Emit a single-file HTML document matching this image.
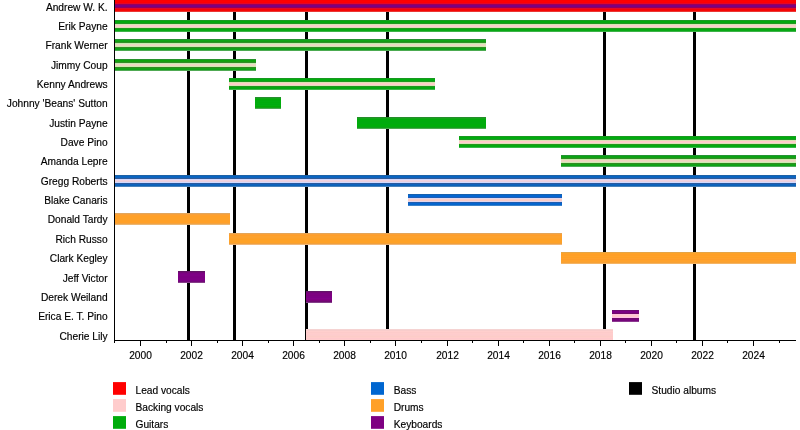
<!DOCTYPE html><html><head><meta charset="utf-8"><title>Timeline</title>
<style>html,body{margin:0;padding:0;background:#fff}body{width:800px;height:430px;overflow:hidden}svg{display:block}text{font-family:"Liberation Sans",sans-serif;font-size:10.2px;fill:#000;stroke:#000;stroke-width:0.16px}</style></head><body>
<svg width="800" height="430" viewBox="0 0 800 430">
<rect width="800" height="430" fill="#fff"/>
<rect x="187" y="0" width="3" height="340" fill="#000"/>
<rect x="233" y="0" width="3" height="340" fill="#000"/>
<rect x="305" y="0" width="3" height="340" fill="#000"/>
<rect x="386" y="0" width="3" height="340" fill="#000"/>
<rect x="603" y="0" width="3" height="340" fill="#000"/>
<rect x="693" y="0" width="3" height="340" fill="#000"/>
<rect x="115" y="0" width="681" height="1" fill="#fe0000"/>
<rect x="115" y="1" width="681" height="1" fill="#ff0101"/>
<rect x="115" y="2" width="681" height="1" fill="#fd0002"/>
<rect x="115" y="3" width="681" height="1" fill="#e40728"/>
<rect x="115" y="4" width="681" height="1" fill="#98005a"/>
<rect x="115" y="5" width="681" height="1" fill="#7f0081"/>
<rect x="115" y="6" width="681" height="1" fill="#7a0184"/>
<rect x="115" y="7" width="681" height="1" fill="#93005d"/>
<rect x="115" y="8" width="681" height="1" fill="#e3072a"/>
<rect x="115" y="9" width="681" height="1" fill="#f90101"/>
<rect x="115" y="10" width="681" height="1" fill="#f60605"/>
<rect x="115" y="11" width="681" height="1" fill="#ea3836"/>
<rect x="115" y="20" width="681" height="1" fill="#1c9924"/>
<rect x="115" y="21" width="681" height="1" fill="#02aa0d"/>
<rect x="115" y="22" width="681" height="1" fill="#04a90f"/>
<rect x="115" y="23" width="681" height="1" fill="#239621"/>
<rect x="115" y="24" width="681" height="1" fill="#d8e6b5"/>
<rect x="115" y="25" width="681" height="1" fill="#f8d0c8"/>
<rect x="115" y="26" width="681" height="1" fill="#ffcdce"/>
<rect x="115" y="27" width="681" height="1" fill="#dddfba"/>
<rect x="115" y="28" width="681" height="1" fill="#249720"/>
<rect x="115" y="29" width="681" height="1" fill="#01a90c"/>
<rect x="115" y="30" width="681" height="1" fill="#08a814"/>
<rect x="115" y="31" width="681" height="1" fill="#3eb348"/>
<rect x="115" y="39" width="371" height="1" fill="#279031"/>
<rect x="115" y="40" width="371" height="1" fill="#11a418"/>
<rect x="115" y="41" width="371" height="1" fill="#11a012"/>
<rect x="115" y="42" width="371" height="1" fill="#328f27"/>
<rect x="115" y="43" width="371" height="1" fill="#c5edae"/>
<rect x="115" y="44" width="371" height="1" fill="#e8d8c1"/>
<rect x="115" y="45" width="371" height="1" fill="#ebd9c1"/>
<rect x="115" y="46" width="371" height="1" fill="#ccecaf"/>
<rect x="115" y="47" width="371" height="1" fill="#358b26"/>
<rect x="115" y="48" width="371" height="1" fill="#10a116"/>
<rect x="115" y="49" width="371" height="1" fill="#0ea21a"/>
<rect x="115" y="50" width="371" height="1" fill="#4cab51"/>
<rect x="115" y="59" width="141" height="1" fill="#28922d"/>
<rect x="115" y="60" width="141" height="1" fill="#0ea20e"/>
<rect x="115" y="61" width="141" height="1" fill="#14a110"/>
<rect x="115" y="62" width="141" height="1" fill="#338b27"/>
<rect x="115" y="63" width="141" height="1" fill="#caebb4"/>
<rect x="115" y="64" width="141" height="1" fill="#ecd7c4"/>
<rect x="115" y="65" width="141" height="1" fill="#ecd7c2"/>
<rect x="115" y="66" width="141" height="1" fill="#cdecb0"/>
<rect x="115" y="67" width="141" height="1" fill="#338924"/>
<rect x="115" y="68" width="141" height="1" fill="#14a315"/>
<rect x="115" y="69" width="141" height="1" fill="#0fa017"/>
<rect x="115" y="70" width="141" height="1" fill="#50aa53"/>
<rect x="229" y="78" width="206" height="1" fill="#189920"/>
<rect x="229" y="79" width="206" height="1" fill="#01ac0e"/>
<rect x="229" y="80" width="206" height="1" fill="#00ac0f"/>
<rect x="229" y="81" width="206" height="1" fill="#209721"/>
<rect x="229" y="82" width="206" height="1" fill="#dce2b4"/>
<rect x="229" y="83" width="206" height="1" fill="#ffcdc6"/>
<rect x="229" y="84" width="206" height="1" fill="#ffcccb"/>
<rect x="229" y="85" width="206" height="1" fill="#dce0b9"/>
<rect x="229" y="86" width="206" height="1" fill="#24951f"/>
<rect x="229" y="87" width="206" height="1" fill="#02aa0f"/>
<rect x="229" y="88" width="206" height="1" fill="#06a513"/>
<rect x="229" y="89" width="206" height="1" fill="#40b54a"/>
<rect x="255" y="97" width="26" height="1" fill="#26902e"/>
<rect x="255" y="98" width="26" height="1" fill="#0fa415"/>
<rect x="255" y="99" width="26" height="1" fill="#00ab07"/>
<rect x="255" y="100" width="26" height="1" fill="#01ab0c"/>
<rect x="255" y="101" width="26" height="1" fill="#01ac0e"/>
<rect x="255" y="102" width="26" height="1" fill="#00ab0c"/>
<rect x="255" y="103" width="26" height="1" fill="#00ad0e"/>
<rect x="255" y="104" width="26" height="1" fill="#00aa0e"/>
<rect x="255" y="105" width="26" height="1" fill="#03ad0e"/>
<rect x="255" y="106" width="26" height="1" fill="#00ab04"/>
<rect x="255" y="107" width="26" height="1" fill="#10a314"/>
<rect x="255" y="108" width="26" height="1" fill="#4ca851"/>
<rect x="357" y="117" width="129" height="1" fill="#258e2a"/>
<rect x="357" y="118" width="129" height="1" fill="#12a318"/>
<rect x="357" y="119" width="129" height="1" fill="#01aa09"/>
<rect x="357" y="120" width="129" height="1" fill="#00ac0c"/>
<rect x="357" y="121" width="129" height="1" fill="#00ab0d"/>
<rect x="357" y="122" width="129" height="2" fill="#01aa0f"/>
<rect x="357" y="124" width="129" height="2" fill="#00ad0a"/>
<rect x="357" y="126" width="129" height="1" fill="#00ac0c"/>
<rect x="357" y="127" width="129" height="1" fill="#0fa118"/>
<rect x="357" y="128" width="129" height="1" fill="#4cab4f"/>
<rect x="459" y="136" width="337" height="1" fill="#1a9a21"/>
<rect x="459" y="137" width="337" height="1" fill="#00ab0b"/>
<rect x="459" y="138" width="337" height="1" fill="#00ad12"/>
<rect x="459" y="139" width="337" height="1" fill="#209723"/>
<rect x="459" y="140" width="337" height="1" fill="#dce2b6"/>
<rect x="459" y="141" width="337" height="1" fill="#fecbc7"/>
<rect x="459" y="142" width="337" height="1" fill="#ffcdcc"/>
<rect x="459" y="143" width="337" height="1" fill="#dbe1b9"/>
<rect x="459" y="144" width="337" height="1" fill="#24961c"/>
<rect x="459" y="145" width="337" height="1" fill="#04aa0c"/>
<rect x="459" y="146" width="337" height="1" fill="#02a911"/>
<rect x="459" y="147" width="337" height="1" fill="#3ab648"/>
<rect x="561" y="155" width="235" height="1" fill="#259332"/>
<rect x="561" y="156" width="235" height="1" fill="#0aa315"/>
<rect x="561" y="157" width="235" height="1" fill="#11a314"/>
<rect x="561" y="158" width="235" height="1" fill="#338b23"/>
<rect x="561" y="159" width="235" height="1" fill="#ccecad"/>
<rect x="561" y="160" width="235" height="1" fill="#efd6c0"/>
<rect x="561" y="161" width="235" height="1" fill="#edd7c2"/>
<rect x="561" y="162" width="235" height="1" fill="#cbedb0"/>
<rect x="561" y="163" width="235" height="1" fill="#328a24"/>
<rect x="561" y="164" width="235" height="1" fill="#14a315"/>
<rect x="561" y="165" width="235" height="1" fill="#0fa017"/>
<rect x="561" y="166" width="235" height="1" fill="#4dab55"/>
<rect x="115" y="175" width="681" height="1" fill="#1e61a5"/>
<rect x="115" y="176" width="681" height="1" fill="#0865c2"/>
<rect x="115" y="177" width="681" height="1" fill="#0f64bf"/>
<rect x="115" y="178" width="681" height="1" fill="#2f5b9a"/>
<rect x="115" y="179" width="681" height="1" fill="#d2d7fd"/>
<rect x="115" y="180" width="681" height="1" fill="#f1d3df"/>
<rect x="115" y="181" width="681" height="1" fill="#ebcfdd"/>
<rect x="115" y="182" width="681" height="1" fill="#cfdaff"/>
<rect x="115" y="183" width="681" height="1" fill="#2b5a9e"/>
<rect x="115" y="184" width="681" height="1" fill="#0f62bd"/>
<rect x="115" y="185" width="681" height="1" fill="#0c62b7"/>
<rect x="115" y="186" width="681" height="1" fill="#4981ba"/>
<rect x="408" y="194" width="154" height="1" fill="#1760ad"/>
<rect x="408" y="195" width="154" height="1" fill="#0566cf"/>
<rect x="408" y="196" width="154" height="1" fill="#0365d4"/>
<rect x="408" y="197" width="154" height="1" fill="#1f5db2"/>
<rect x="408" y="198" width="154" height="1" fill="#e0d6ee"/>
<rect x="408" y="199" width="154" height="1" fill="#fbcec8"/>
<rect x="408" y="200" width="154" height="1" fill="#facdc7"/>
<rect x="408" y="201" width="154" height="1" fill="#e0d6ee"/>
<rect x="408" y="202" width="154" height="1" fill="#205dae"/>
<rect x="408" y="203" width="154" height="1" fill="#0566d1"/>
<rect x="408" y="204" width="154" height="1" fill="#0765c9"/>
<rect x="408" y="205" width="154" height="1" fill="#3c82ca"/>
<rect x="115" y="213" width="115" height="1" fill="#e2a65d"/>
<rect x="115" y="214" width="115" height="1" fill="#f6a03b"/>
<rect x="115" y="215" width="115" height="1" fill="#ffa02b"/>
<rect x="115" y="216" width="115" height="1" fill="#ffa027"/>
<rect x="115" y="217" width="115" height="1" fill="#ffa127"/>
<rect x="115" y="218" width="115" height="2" fill="#fea128"/>
<rect x="115" y="220" width="115" height="2" fill="#ffa027"/>
<rect x="115" y="222" width="115" height="1" fill="#ffa028"/>
<rect x="115" y="223" width="115" height="1" fill="#f4a23e"/>
<rect x="115" y="224" width="115" height="1" fill="#ebb672"/>
<rect x="229" y="233" width="333" height="1" fill="#e4a558"/>
<rect x="229" y="234" width="333" height="1" fill="#fba036"/>
<rect x="229" y="235" width="333" height="1" fill="#ff9e28"/>
<rect x="229" y="236" width="333" height="1" fill="#fca12e"/>
<rect x="229" y="237" width="333" height="1" fill="#fba22e"/>
<rect x="229" y="238" width="333" height="1" fill="#fea028"/>
<rect x="229" y="239" width="333" height="1" fill="#fea024"/>
<rect x="229" y="240" width="333" height="3" fill="#fea227"/>
<rect x="229" y="243" width="333" height="1" fill="#f2a03a"/>
<rect x="229" y="244" width="333" height="1" fill="#f1b778"/>
<rect x="561" y="252" width="235" height="1" fill="#e6a446"/>
<rect x="561" y="253" width="235" height="1" fill="#fda328"/>
<rect x="561" y="254" width="235" height="2" fill="#ff9f27"/>
<rect x="561" y="256" width="235" height="1" fill="#ffa228"/>
<rect x="561" y="257" width="235" height="1" fill="#fea026"/>
<rect x="561" y="258" width="235" height="1" fill="#ffa02d"/>
<rect x="561" y="259" width="235" height="1" fill="#fe9d2a"/>
<rect x="561" y="260" width="235" height="1" fill="#ffa12b"/>
<rect x="561" y="261" width="235" height="1" fill="#fda22d"/>
<rect x="561" y="262" width="235" height="1" fill="#f7a134"/>
<rect x="561" y="263" width="235" height="1" fill="#f5b464"/>
<rect x="178" y="271" width="27" height="1" fill="#611464"/>
<rect x="178" y="272" width="27" height="1" fill="#720876"/>
<rect x="178" y="273" width="27" height="1" fill="#7c0182"/>
<rect x="178" y="274" width="27" height="1" fill="#7f0085"/>
<rect x="178" y="275" width="27" height="1" fill="#7f0086"/>
<rect x="178" y="276" width="27" height="1" fill="#7d0082"/>
<rect x="178" y="277" width="27" height="1" fill="#7c0082"/>
<rect x="178" y="278" width="27" height="2" fill="#7e0084"/>
<rect x="178" y="280" width="27" height="1" fill="#7c0085"/>
<rect x="178" y="281" width="27" height="1" fill="#720879"/>
<rect x="178" y="282" width="27" height="1" fill="#863c89"/>
<rect x="306" y="291" width="26" height="1" fill="#621467"/>
<rect x="306" y="292" width="26" height="1" fill="#720676"/>
<rect x="306" y="293" width="26" height="1" fill="#7c0080"/>
<rect x="306" y="294" width="26" height="1" fill="#7e0081"/>
<rect x="306" y="295" width="26" height="1" fill="#7c007f"/>
<rect x="306" y="296" width="26" height="1" fill="#7d0083"/>
<rect x="306" y="297" width="26" height="1" fill="#7c0085"/>
<rect x="306" y="298" width="26" height="1" fill="#820088"/>
<rect x="306" y="299" width="26" height="1" fill="#800082"/>
<rect x="306" y="300" width="26" height="1" fill="#7c027c"/>
<rect x="306" y="301" width="26" height="1" fill="#6e0a70"/>
<rect x="306" y="302" width="26" height="1" fill="#843e8a"/>
<rect x="612" y="310" width="27" height="1" fill="#6d0d71"/>
<rect x="612" y="311" width="27" height="1" fill="#7c0084"/>
<rect x="612" y="312" width="27" height="1" fill="#7a0084"/>
<rect x="612" y="313" width="27" height="1" fill="#720b69"/>
<rect x="612" y="314" width="27" height="1" fill="#ffc3df"/>
<rect x="612" y="315" width="27" height="1" fill="#ffcbc9"/>
<rect x="612" y="316" width="27" height="1" fill="#ffc9cf"/>
<rect x="612" y="317" width="27" height="1" fill="#ffc1e6"/>
<rect x="612" y="318" width="27" height="1" fill="#720a6b"/>
<rect x="612" y="319" width="27" height="1" fill="#77047c"/>
<rect x="612" y="320" width="27" height="1" fill="#75067a"/>
<rect x="612" y="321" width="27" height="1" fill="#8d3991"/>
<rect x="306" y="329" width="307" height="1" fill="#f5d3d2"/>
<rect x="306" y="330" width="307" height="1" fill="#f8cccb"/>
<rect x="306" y="331" width="307" height="1" fill="#ffcfcd"/>
<rect x="306" y="332" width="307" height="1" fill="#fdcbca"/>
<rect x="306" y="333" width="307" height="1" fill="#ffcdcc"/>
<rect x="306" y="334" width="307" height="1" fill="#fecccd"/>
<rect x="306" y="335" width="307" height="1" fill="#fdcdcb"/>
<rect x="306" y="336" width="307" height="1" fill="#fdccc8"/>
<rect x="306" y="337" width="307" height="1" fill="#ffcdca"/>
<rect x="306" y="338" width="307" height="1" fill="#ffc9cc"/>
<rect x="306" y="339" width="307" height="2" fill="#ffcccc"/>
<rect x="114" y="0" width="1" height="341" fill="#000"/>
<rect x="114" y="340" width="682" height="1" fill="#000"/>
<rect x="114" y="340" width="1" height="3" fill="#000"/>
<rect x="140" y="340" width="1" height="6" fill="#000"/>
<text x="140.50" y="359.4" text-anchor="middle">2000</text>
<rect x="166" y="340" width="1" height="3" fill="#000"/>
<rect x="191" y="340" width="1" height="6" fill="#000"/>
<text x="191.50" y="359.4" text-anchor="middle">2002</text>
<rect x="217" y="340" width="1" height="3" fill="#000"/>
<rect x="242" y="340" width="1" height="6" fill="#000"/>
<text x="242.50" y="359.4" text-anchor="middle">2004</text>
<rect x="268" y="340" width="1" height="3" fill="#000"/>
<rect x="293" y="340" width="1" height="6" fill="#000"/>
<text x="293.50" y="359.4" text-anchor="middle">2006</text>
<rect x="319" y="340" width="1" height="3" fill="#000"/>
<rect x="344" y="340" width="1" height="6" fill="#000"/>
<text x="344.50" y="359.4" text-anchor="middle">2008</text>
<rect x="370" y="340" width="1" height="3" fill="#000"/>
<rect x="395" y="340" width="1" height="6" fill="#000"/>
<text x="395.50" y="359.4" text-anchor="middle">2010</text>
<rect x="421" y="340" width="1" height="3" fill="#000"/>
<rect x="447" y="340" width="1" height="6" fill="#000"/>
<text x="447.50" y="359.4" text-anchor="middle">2012</text>
<rect x="472" y="340" width="1" height="3" fill="#000"/>
<rect x="498" y="340" width="1" height="6" fill="#000"/>
<text x="498.50" y="359.4" text-anchor="middle">2014</text>
<rect x="523" y="340" width="1" height="3" fill="#000"/>
<rect x="549" y="340" width="1" height="6" fill="#000"/>
<text x="549.50" y="359.4" text-anchor="middle">2016</text>
<rect x="574" y="340" width="1" height="3" fill="#000"/>
<rect x="600" y="340" width="1" height="6" fill="#000"/>
<text x="600.50" y="359.4" text-anchor="middle">2018</text>
<rect x="625" y="340" width="1" height="3" fill="#000"/>
<rect x="651" y="340" width="1" height="6" fill="#000"/>
<text x="651.50" y="359.4" text-anchor="middle">2020</text>
<rect x="676" y="340" width="1" height="3" fill="#000"/>
<rect x="702" y="340" width="1" height="6" fill="#000"/>
<text x="702.50" y="359.4" text-anchor="middle">2022</text>
<rect x="727" y="340" width="1" height="3" fill="#000"/>
<rect x="753" y="340" width="1" height="6" fill="#000"/>
<text x="753.50" y="359.4" text-anchor="middle">2024</text>
<rect x="779" y="340" width="1" height="3" fill="#000"/>
<text x="107.6" y="10.80" text-anchor="end">Andrew W. K.</text>
<text x="107.6" y="29.80" text-anchor="end">Erik Payne</text>
<text x="107.6" y="48.80" text-anchor="end">Frank Werner</text>
<text x="107.6" y="68.80" text-anchor="end">Jimmy Coup</text>
<text x="107.6" y="87.80" text-anchor="end">Kenny Andrews</text>
<text x="107.6" y="106.80" text-anchor="end">Johnny 'Beans' Sutton</text>
<text x="107.6" y="126.80" text-anchor="end">Justin Payne</text>
<text x="107.6" y="145.80" text-anchor="end">Dave Pino</text>
<text x="107.6" y="164.80" text-anchor="end">Amanda Lepre</text>
<text x="107.6" y="184.80" text-anchor="end">Gregg Roberts</text>
<text x="107.6" y="203.80" text-anchor="end">Blake Canaris</text>
<text x="107.6" y="222.80" text-anchor="end">Donald Tardy</text>
<text x="107.6" y="242.80" text-anchor="end">Rich Russo</text>
<text x="107.6" y="261.80" text-anchor="end">Clark Kegley</text>
<text x="107.6" y="281.80" text-anchor="end">Jeff Victor</text>
<text x="107.6" y="300.80" text-anchor="end">Derek Weiland</text>
<text x="107.6" y="319.80" text-anchor="end">Erica E. T. Pino</text>
<text x="107.6" y="339.80" text-anchor="end">Cherie Lily</text>
<rect x="113" y="382.10" width="13" height="12.7" fill="#ff0000"/>
<text x="135.5" y="393.70">Lead vocals</text>
<rect x="113" y="399.10" width="13" height="12.7" fill="#ffcccc"/>
<text x="135.5" y="410.70">Backing vocals</text>
<rect x="113" y="416.10" width="13" height="12.7" fill="#00ac0c"/>
<text x="135.5" y="427.70">Guitars</text>
<rect x="371" y="382.10" width="13" height="12.7" fill="#0066d0"/>
<text x="393.7" y="393.70">Bass</text>
<rect x="371" y="399.10" width="13" height="12.7" fill="#ffa028"/>
<text x="393.7" y="410.70">Drums</text>
<rect x="371" y="416.10" width="13" height="12.7" fill="#7e0082"/>
<text x="393.7" y="427.70">Keyboards</text>
<rect x="629" y="382.10" width="13" height="12.7" fill="#000"/>
<text x="651.5" y="393.70">Studio albums</text>
</svg></body></html>
